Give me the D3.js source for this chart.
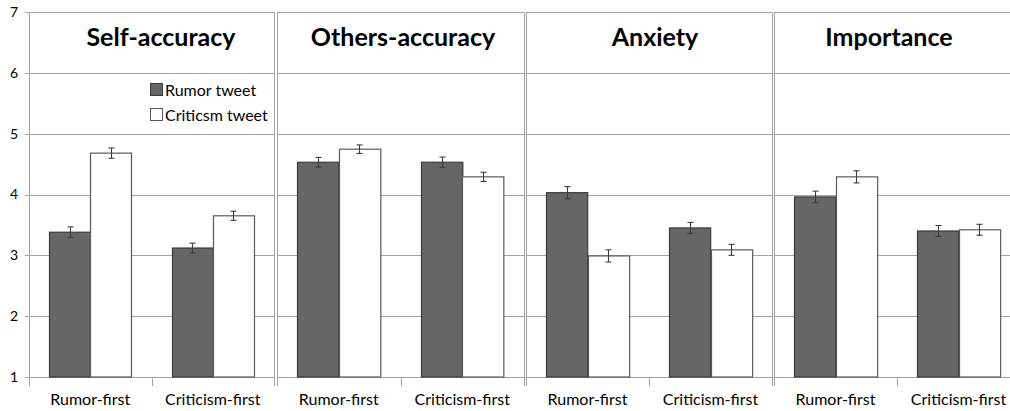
<!DOCTYPE html>
<html>
<head>
<meta charset="utf-8">
<script src="https://cdn.jsdelivr.net/npm/d3@7"></script>
<style>
  html, body { margin: 0; padding: 0; background: #fff; overflow: hidden; }
  svg { display: block; }
  text { font-family: Lato, "Open Sans", sans-serif; fill: #000; }
</style>
</head>
<body>
<svg id="chart" width="1010" height="411"></svg>
<script>
// Measures shown in each panel
const panels = ["Self-accuracy", "Others-accuracy", "Anxiety", "Importance"];
// Presentation order on the x axis
const conditions = ["Rumor-first", "Criticism-first"];
// Tweet type (bar series)
const series = ["Rumor tweet", "Criticsm tweet"];

// Mean ratings, one array per series, ordered panel by panel then condition
const rumorMeans     = [3.38, 3.12, 4.53, 4.53, 4.03, 3.45, 3.96, 3.40];
const criticismMeans = [4.68, 3.65, 4.745, 4.29, 2.99, 3.09, 4.29, 3.42];
// Standard errors for the error bars
const rumorErr     = [0.088, 0.08, 0.08, 0.085, 0.10, 0.09, 0.095, 0.09];
const criticismErr = [0.085, 0.075, 0.07, 0.075, 0.10, 0.09, 0.10, 0.09];

const yTicks = [1, 2, 3, 4, 5, 6, 7];

const width = 1010;
const svg = d3.select("#chart");
const plotTop = 12, plotBottom = 377;
const panelEdges = [[29, 274], [277, 524], [526, 772], [774, 1020]];
const titleCenters = [161, 403, 655, 889];

const y = d3.scaleLinear().domain([1, 7]).range([plotBottom, plotTop]);
const gridColor = "#a3a3a3";
const fills = ["#666666", "#ffffff"];
const strokes = ["#3a3a3a", "#5a5a5a"];
const px = v => Math.round(v) + 0.5;

// Y axis labels
svg.append("g").selectAll("text").data(yTicks).join("text")
  .attr("x", 18).attr("y", d => y(d)).attr("dy", "0.35em")
  .attr("text-anchor", "end").style("font-size", "14px").text(d => d);
// small ticks left of the axis
svg.append("g").selectAll("line").data(yTicks).join("line")
  .attr("x1", 25).attr("x2", 29).attr("y1", d => px(y(d))).attr("y2", d => px(y(d)))
  .attr("stroke", gridColor);

panels.forEach((name, p) => {
  const [x0, x1] = panelEdges[p];
  const g = svg.append("g");
  const xCond = d3.scaleBand().domain(conditions).range([x0, x1]).padding(0);
  const xSer = d3.scaleBand().domain(series).range([0, xCond.bandwidth()])
    .paddingInner(0).paddingOuter(0.494);

  // gridlines
  g.selectAll("line.grid").data(yTicks.slice(1)).join("line")
    .attr("class", "grid")
    .attr("x1", x0).attr("x2", x1)
    .attr("y1", d => px(y(d))).attr("y2", d => px(y(d)))
    .attr("stroke", gridColor);

  // panel frame: side edges (only those inside the page) plus baseline
  g.selectAll("line.edge").data([x0, x1].filter(d => d < width)).join("line")
    .attr("class", "edge")
    .attr("x1", d => px(d)).attr("x2", d => px(d))
    .attr("y1", px(plotTop)).attr("y2", plotBottom + 9)
    .attr("stroke", gridColor);
  g.append("line")
    .attr("x1", x0).attr("x2", x1)
    .attr("y1", px(plotBottom)).attr("y2", px(plotBottom))
    .attr("stroke", gridColor);

  // x tick between the two conditions
  g.append("line")
    .attr("x1", px(xCond(conditions[1]))).attr("x2", px(xCond(conditions[1])))
    .attr("y1", plotBottom).attr("y2", plotBottom + 9)
    .attr("stroke", gridColor);

  const rows = conditions.map((c, i) => ({
    cond: c,
    vals: [rumorMeans[p * 2 + i], criticismMeans[p * 2 + i]],
    errs: [rumorErr[p * 2 + i], criticismErr[p * 2 + i]]
  }));

  rows.forEach(r => {
    series.forEach((s, k) => {
      const bx = xCond(r.cond) + xSer(s);
      const v = r.vals[k];
      g.append("rect")
        .attr("x", px(bx)).attr("y", y(v))
        .attr("width", xSer.bandwidth()).attr("height", y(1) - y(v))
        .attr("fill", fills[k]).attr("stroke", strokes[k]).attr("stroke-width", 1.2);
      const cx = px(bx + xSer.bandwidth() / 2);
      const e = r.errs[k];
      const eg = g.append("g").attr("stroke", "#3c3c3c").attr("stroke-width", 1.1);
      eg.append("line").attr("x1", cx).attr("x2", cx).attr("y1", y(v + e)).attr("y2", y(v - e));
      eg.append("line").attr("x1", cx - 3).attr("x2", cx + 3).attr("y1", y(v + e)).attr("y2", y(v + e));
      eg.append("line").attr("x1", cx - 3).attr("x2", cx + 3).attr("y1", y(v - e)).attr("y2", y(v - e));
    });
  });

  // top edge of the panel
  g.append("line")
    .attr("x1", x0).attr("x2", x1)
    .attr("y1", px(plotTop)).attr("y2", px(plotTop))
    .attr("stroke", gridColor);

  // category labels
  g.selectAll("text.cat").data(conditions).join("text")
    .attr("class", "cat")
    .attr("x", d => xCond(d) + xCond.bandwidth() / 2).attr("y", 405)
    .attr("text-anchor", "middle").style("font-size", "16px").text(d => d);

  // panel title
  g.append("text")
    .attr("x", titleCenters[p]).attr("y", 46)
    .attr("text-anchor", "middle")
    .style("font-size", "25px").style("font-weight", "bold")
    .text(name);
});

// legend in the first panel
const legend = svg.append("g");
series.forEach((s, k) => {
  const ly = 90 + k * 25;
  legend.append("rect")
    .attr("x", 150.5).attr("y", ly - 6.5).attr("width", 12).attr("height", 12)
    .attr("fill", fills[k]).attr("stroke", strokes[k]);
  legend.append("text")
    .attr("x", 165).attr("y", ly).attr("dy", "0.35em")
    .style("font-size", "16px").text(s);
});
</script>
</body>
</html>
